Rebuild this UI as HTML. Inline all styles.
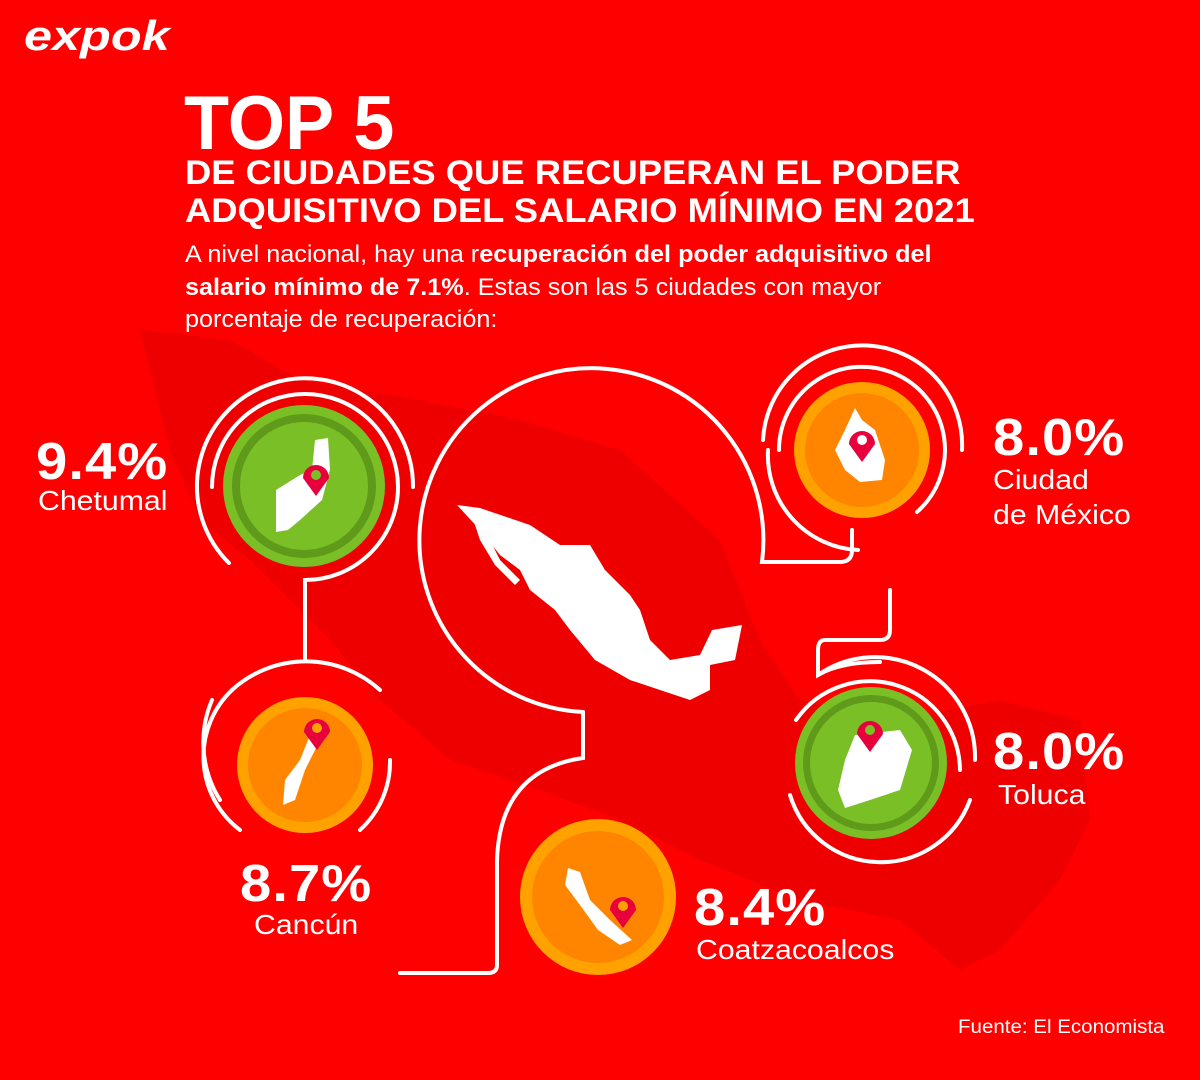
<!DOCTYPE html>
<html><head><meta charset="utf-8"><style>
html,body{margin:0;padding:0;}
body{width:1200px;height:1080px;overflow:hidden;background:#fe0000;font-family:"Liberation Sans",sans-serif;color:#fff;position:relative;}
.t{position:absolute;white-space:nowrap;transform-origin:0 0;}
.pct{font-weight:bold;font-size:52px;letter-spacing:1px;transform:scaleX(1.08);}
.lab{font-size:28px;transform:scaleX(1.08);}
</style></head><body>
<svg width="1200" height="1080" style="position:absolute;left:0;top:0">
<path d="M140,330 L230,340 L300,380 L420,400 L520,420 L620,450 L720,540 L760,640 L800,700 L900,720 L1000,700 L1080,720 L1090,820 L1060,880 L1000,950 L960,970 L900,920 L800,900 L700,860 L620,820 L540,790 L450,760 L380,700 L330,640 L290,600 L250,560 L200,520 L170,450 Z" fill="#ee0000"/>
<g fill="none" stroke="#fff" stroke-width="4" stroke-linecap="round">
<path d="M212,487 A93,93 0 1 1 398,487 A93,93 0 0 1 305,580 L305,660"/>
<path d="M229,563 A108,108 0 1 1 413,487"/>
<path d="M583,712 A172,172 0 1 1 762,562 L840,562 Q852,562 852,550 L852,530"/>
<path d="M583,712 L583,758 Q500,770 497,860 L497,965 Q497,973 488,973 L400,973"/>
<path d="M779,450 A83,83 0 1 1 917,512"/>
<path d="M763,440 A99,99 0 1 1 962,450"/>
<path d="M768,450 A95,95 0 0 0 858,550"/>
<path d="M890,590 L890,630 Q890,640 880,640 L825,640 Q818,640 818,650 L818,675 Q840,662 880,662"/>
<path d="M818,675 A100,100 0 0 1 975,760"/>
<path d="M796,720 A90,90 0 0 1 960,770"/>
<path d="M790,795 A95,95 0 0 0 970,800"/>
<path d="M232,690 A92,92 0 0 0 240,830"/>
<path d="M232,690 A110,110 0 0 1 380,690"/>
<path d="M390,760 A92,92 0 0 1 360,830"/>
<path d="M212,700 A108,108 0 0 0 220,800"/>
</g>
<circle cx="304" cy="486" r="81" fill="#7abf26"/><circle cx="304" cy="486" r="72" fill="#5f9a1a"/><circle cx="304" cy="486" r="64" fill="#7abf26"/>
<circle cx="862" cy="450" r="68" fill="#ffa200"/><circle cx="862" cy="450" r="57" fill="#ff8500"/>
<circle cx="871" cy="763" r="76" fill="#7abf26"/><circle cx="871" cy="763" r="68" fill="#5f9a1a"/><circle cx="871" cy="763" r="61" fill="#7abf26"/>
<circle cx="305" cy="765" r="68" fill="#ffa200"/><circle cx="305" cy="765" r="57" fill="#ff8500"/>
<circle cx="598" cy="897" r="78" fill="#ffa200"/><circle cx="598" cy="897" r="66" fill="#ff8500"/>
<g fill="#fff">
<path d="M315,440 L328,438 L330,470 L322,500 L300,520 L288,530 L276,532 L276,490 L300,475 L312,470 Z"/>
<path d="M855,408 L862,420 L875,430 L885,460 L882,480 L860,482 L845,470 L835,450 L845,430 Z"/>
<path d="M855,735 L900,730 L912,750 L900,790 L870,800 L845,808 L838,790 L845,760 Z"/>
<path d="M312,730 L320,740 L305,770 L295,800 L283,805 L285,780 L300,760 Z"/>
<path d="M568,868 L580,872 L590,900 L610,920 L632,940 L620,945 L598,930 L580,905 L565,885 Z"/>
<path d="M457,505 L480,508 L530,525 L560,545 L590,545 L605,570 L630,595 L640,610 L650,640 L670,660 L700,655 L712,630 L742,625 L735,660 L710,665 L710,690 L690,700 L660,690 L630,680 L595,660 L570,630 L555,610 L530,590 L520,570 L500,555 L480,530 Z"/>
<path d="M470,510 L485,530 L500,560 L520,580 L515,585 L495,565 L480,540 Z"/>
</g>
<g fill="#e8003c">
<path d="M316,496 L303,478 A13,13 0 1 1 329,478 Z"/><circle cx="316" cy="475" r="5" fill="#7abf26"/>
<path d="M862,462 L849,444 A13,13 0 1 1 875,444 Z"/><circle cx="862" cy="440" r="5" fill="#fff"/>
<path d="M870,752 L857,734 A13,13 0 1 1 883,734 Z"/><circle cx="870" cy="730" r="5" fill="#7abf26"/>
<path d="M317,750 L304,732 A13,13 0 1 1 330,732 Z"/><circle cx="317" cy="728" r="5" fill="#ffa200"/>
<path d="M623,928 L610,910 A13,13 0 1 1 636,910 Z"/><circle cx="623" cy="906" r="5" fill="#ffa200"/>
</g>
</svg>
<div class="t" style="left:24px;top:12px;font-size:42px;font-weight:bold;font-style:italic;transform:scaleX(1.2)">expok</div>
<div class="t" style="left:184px;top:80px;font-size:76px;font-weight:bold;transform:scaleX(0.97)">TOP 5</div>
<div class="t" style="left:185px;top:154px;font-size:34px;font-weight:bold;line-height:38px;transform:scaleX(1.07)">DE CIUDADES QUE RECUPERAN EL PODER<br>ADQUISITIVO DEL SALARIO MÍNIMO EN 2021</div>
<div class="t" style="left:185px;top:239px;font-size:24px;line-height:32.5px;transform:scaleX(1.05)">A nivel nacional, hay una r<b>ecuperación del poder adquisitivo del</b><br><b>salario mínimo de 7.1%</b>. Estas son las 5 ciudades con mayor<br>porcentaje de recuperación:</div>
<div class="t pct" style="left:36px;top:432px">9.4%</div>
<div class="t lab" style="left:38px;top:485px">Chetumal</div>
<div class="t pct" style="left:993px;top:408px">8.0%</div>
<div class="t lab" style="left:993px;top:462px;line-height:35px">Ciudad<br>de México</div>
<div class="t pct" style="left:993px;top:722px">8.0%</div>
<div class="t lab" style="left:998px;top:779px">Toluca</div>
<div class="t pct" style="left:240px;top:854px">8.7%</div>
<div class="t lab" style="left:254px;top:909px">Cancún</div>
<div class="t pct" style="left:694px;top:878px">8.4%</div>
<div class="t lab" style="left:696px;top:934px">Coatzacoalcos</div>
<div class="t" style="left:958px;top:1017px;font-size:19px;transform:scaleX(1.08)">Fuente: El Economista</div>
</body></html>
